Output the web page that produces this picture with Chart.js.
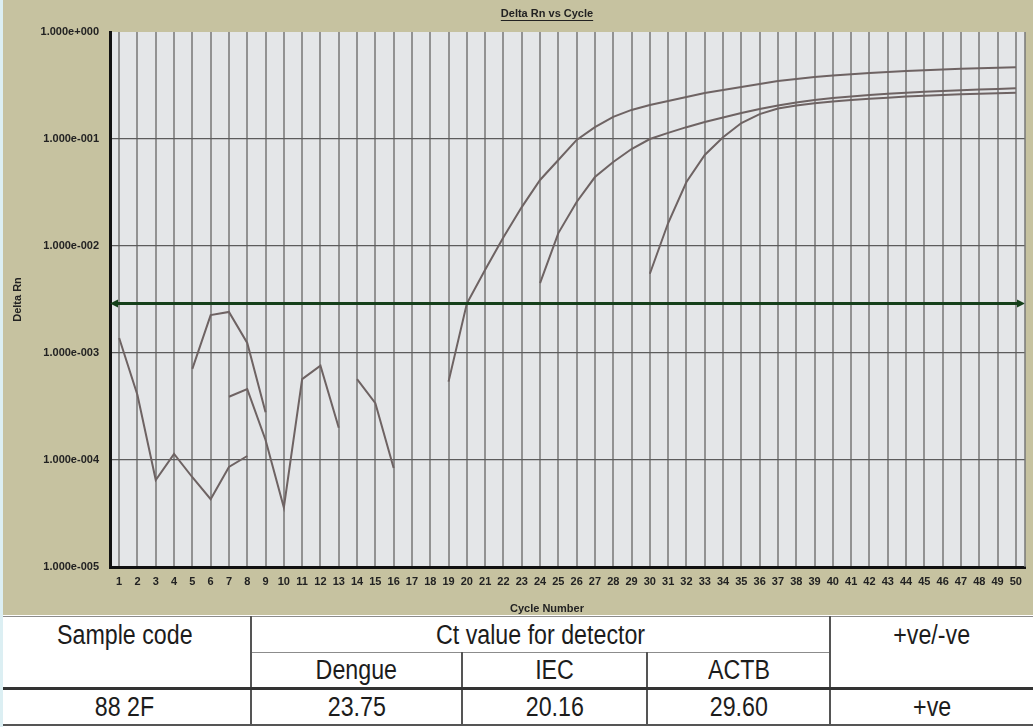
<!DOCTYPE html>
<html>
<head>
<meta charset="utf-8">
<title>Delta Rn vs Cycle</title>
<script src="https://cdn.jsdelivr.net/npm/chart.js@4.4.1/dist/chart.umd.min.js"></script>
<style>
  html, body { margin: 0; padding: 0; background: #ffffff; }
  #plotWrap { position: absolute; left: 0; top: 0; width: 1033px; height: 615px; background: #c6c2a0; }
  #edge { position: absolute; left: 0; top: 0; width: 3px; height: 727px; background: #dceff3; }
  #ctTable {
    position: absolute; left: 0; top: 616px; width: 1033px;
    border-collapse: collapse; table-layout: fixed;
    font-family: "Liberation Sans", Arial, sans-serif;
    font-size: 27px; color: #1c1c1c;
  }
  #ctTable td { padding: 0; text-align: center; vertical-align: middle; line-height: 30px; }
  #ctTable td span { display: inline-block; transform: scaleX(0.86); transform-origin: center; }
  #ctTable tr.head1 td { border-top: 1px solid #8c8c8c; }
  #ctTable td.span { vertical-align: top; line-height: 36px; }
  #ctTable td.mid { border-bottom: 1px solid #8c8c8c; }
  #ctTable td.vl { border-left: 2px solid #555; }
  #ctTable tr.result td { border-top: 3px solid #333; border-bottom: 2px solid #555; }
</style>
</head>
<body>
<div id="plotWrap"><canvas id="rnChart" width="1033" height="615"></canvas></div>
<table id="ctTable">
  <colgroup>
    <col style="width:251px"><col style="width:211px"><col style="width:185px"><col style="width:183px"><col style="width:203px">
  </colgroup>
  <tbody id="ctBody"></tbody>
</table>
<div id="edge"></div>
<script>
// cycle numbers on the x axis
const cycles = [1, 2, 3, 4, 5, 6, 7, 8, 9, 10, 11, 12, 13, 14, 15, 16, 17, 18, 19, 20,
  21, 22, 23, 24, 25, 26, 27, 28, 29, 30, 31, 32, 33, 34, 35, 36, 37, 38, 39, 40,
  41, 42, 43, 44, 45, 46, 47, 48, 49, 50];

// delta Rn per cycle (null = not plotted)
const iecRn = [1.38e-3, 4.05e-4, 6.5e-5, 1.14e-4, 6.9e-5, 4.3e-5, 8.6e-5, 1.09e-4, null, null,
  null, null, null, 5.7e-4, 3.4e-4, 8.4e-5, null, null, 5.4e-4, 2.9e-3,
  6.0e-3, 1.21e-2, 2.31e-2, 4.14e-2, 6.37e-2, 0.098, 0.129, 0.161, 0.187, 0.208,
  0.227, 0.247, 0.269, 0.287, 0.306, 0.327, 0.348, 0.364, 0.380, 0.392,
  0.403, 0.414, 0.423, 0.432, 0.440, 0.446, 0.453, 0.459, 0.464, 0.468];

const dengueRn = [null, null, null, null, 7.1e-4, 2.26e-3, 2.42e-3, 1.24e-3, 2.8e-4, null,
  null, null, null, null, null, null, null, null, null, null,
  null, null, null, 4.5e-3, 1.32e-2, 2.58e-2, 4.41e-2, 6.1e-2, 8.06e-2, 0.100,
  0.114, 0.129, 0.144, 0.159, 0.175, 0.191, 0.206, 0.219, 0.232, 0.242,
  0.250, 0.258, 0.265, 0.270, 0.276, 0.281, 0.286, 0.290, 0.294, 0.298];

const actbRn = [null, null, null, null, null, null, 3.9e-4, 4.6e-4, 1.54e-4, 3.6e-5,
  5.7e-4, 7.6e-4, 2.0e-4, null, null, null, null, null, null, null,
  null, null, null, null, null, null, null, null, null, 5.5e-3,
  1.64e-2, 3.96e-2, 7.1e-2, 0.104, 0.141, 0.171, 0.193, 0.206, 0.216, 0.224,
  0.232, 0.238, 0.243, 0.249, 0.253, 0.258, 0.262, 0.265, 0.268, 0.271];

// threshold and y tick values
const threshold = 0.0029;
const yTicks = [1e-5, 1e-4, 1e-3, 1e-2, 1e-1, 1];

// table values
const sampleCode = '88 2F';
const detectors = ['Dengue', 'IEC', 'ACTB'];
const ctValues = ['23.75', '20.16', '29.60'];
const result = '+ve';

// build the Ct table
function buildTable() {
  const body = document.getElementById('ctBody');
  const t = (s) => '<span>' + s + '</span>';
  let html = '<tr class="head1" style="height:36px"><td class="span" rowspan="2">' + t('Sample code') + '</td>' +
    '<td class="vl mid" colspan="3">' + t('Ct value for detector') + '</td>' +
    '<td class="span vl" rowspan="2">' + t('+ve/-ve') + '</td></tr>';
  html += '<tr style="height:36px">' + detectors.map(d => '<td class="vl">' + t(d) + '</td>').join('') + '</tr>';
  html += '<tr class="result" style="height:36px"><td>' + t(sampleCode) + '</td>' +
    ctValues.map(v => '<td class="vl">' + t(v) + '</td>').join('') +
    '<td class="vl">' + t(result) + '</td></tr>';
  body.innerHTML = html;
}

// 1.000e-003 style labels
function sciLabel(v) {
  const e = Math.round(Math.log10(v));
  const m = v / Math.pow(10, e);
  return m.toFixed(3) + 'e' + (e < 0 ? '-' : '+') + String(Math.abs(e)).padStart(3, '0');
}

const plotDecor = {
  id: 'plotDecor',
  beforeDraw(chart) {
    const { ctx, chartArea: a } = chart;
    ctx.save();
    ctx.fillStyle = '#e4e6e8';
    ctx.fillRect(a.left, a.top, a.right - a.left, a.bottom - a.top);
    ctx.restore();
  },
  afterDatasetsDraw(chart) {
    const { ctx, chartArea: a } = chart;
    const y = chart.scales.y.getPixelForValue(threshold);
    ctx.save();
    ctx.strokeStyle = '#15401a';
    ctx.fillStyle = '#15401a';
    ctx.lineWidth = 3;
    ctx.beginPath();
    ctx.moveTo(a.left + 4, y);
    ctx.lineTo(a.right - 4, y);
    ctx.stroke();
    // arrow heads
    ctx.beginPath();
    ctx.moveTo(a.left, y); ctx.lineTo(a.left + 8, y - 4); ctx.lineTo(a.left + 8, y + 4); ctx.closePath();
    ctx.fill();
    ctx.beginPath();
    ctx.moveTo(a.right, y); ctx.lineTo(a.right - 8, y - 4); ctx.lineTo(a.right - 8, y + 4); ctx.closePath();
    ctx.fill();
    ctx.restore();
  },
  afterDraw(chart) {
    const { ctx, chartArea: a } = chart;
    ctx.save();
    // right edge of plot
    ctx.strokeStyle = '#777';
    ctx.lineWidth = 1.5;
    ctx.beginPath();
    ctx.moveTo(a.right, a.top);
    ctx.lineTo(a.right, a.bottom);
    ctx.stroke();
    // chart title (underlined) and x axis title
    ctx.fillStyle = '#222';
    ctx.font = 'bold 11px "Liberation Sans", Arial, sans-serif';
    ctx.textAlign = 'center';
    ctx.textBaseline = 'middle';
    const tx = 547;
    ctx.fillText('Delta Rn vs Cycle', tx, 14);
    const w = ctx.measureText('Delta Rn vs Cycle').width;
    ctx.strokeStyle = '#222';
    ctx.lineWidth = 1;
    ctx.beginPath();
    ctx.moveTo(tx - w / 2, 20.5);
    ctx.lineTo(tx + w / 2, 20.5);
    ctx.stroke();
    ctx.fillText('Cycle Number', tx, 609);
    ctx.restore();
  }
};

const lineStyle = { borderColor: '#6e6363', borderWidth: 2, pointRadius: 0, tension: 0, spanGaps: false, fill: false };

function drawChart() {
  const ctx = document.getElementById('rnChart').getContext('2d');
  new Chart(ctx, {
    type: 'line',
    data: {
      labels: cycles,
      datasets: [
        Object.assign({ label: 'IEC', data: iecRn }, lineStyle),
        Object.assign({ label: 'Dengue', data: dengueRn }, lineStyle),
        Object.assign({ label: 'ACTB', data: actbRn }, lineStyle)
      ]
    },
    options: {
      responsive: false,
      animation: false,
      layout: { padding: { top: 32, right: 8, left: 0, bottom: 0 } },
      plugins: { legend: { display: false }, tooltip: { enabled: false }, title: { display: false } },
      scales: {
        x: {
          type: 'category',
          offset: true,
          afterFit: (s) => { s.height = 48; },
          grid: { offset: false, color: '#929292', lineWidth: 2, drawTicks: false },
          border: { color: '#111', width: 3 },
          ticks: { autoSkip: false, maxRotation: 0, padding: 8, color: '#222',
            font: { family: '"Liberation Sans", Arial, sans-serif', size: 11, weight: 'bold' } }
        },
        y: {
          type: 'logarithmic',
          min: 1e-5,
          max: 1,
          afterFit: (s) => { s.width = 110; },
          afterBuildTicks: (s) => { s.ticks = yTicks.map(v => ({ value: v, major: true })); },
          grid: {
            drawTicks: false,
            lineWidth: 1.2,
            color: (c) => (c.tick && c.tick.value === 1 ? 'rgba(0,0,0,0)' : '#5c5c5c')
          },
          border: { color: '#111', width: 3 },
          title: { display: true, text: 'Delta Rn', color: '#222', padding: { top: 11.5, bottom: 0 },
            font: { family: '"Liberation Sans", Arial, sans-serif', size: 11, weight: 'bold' } },
          ticks: { padding: 11, color: '#222', callback: (v) => sciLabel(v),
            font: { family: '"Liberation Sans", Arial, sans-serif', size: 11, weight: 'bold' } }
        }
      }
    },
    plugins: [plotDecor]
  });
}

window.onload = function () {
  buildTable();
  drawChart();
};
</script>
</body>
</html>
